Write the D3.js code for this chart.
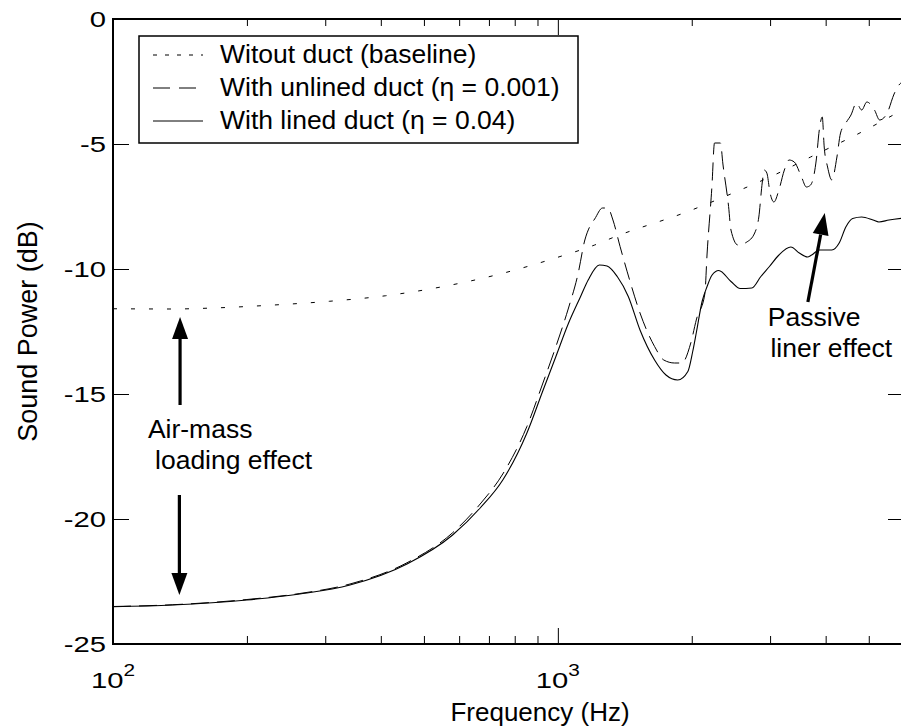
<!DOCTYPE html>
<html><head><meta charset="utf-8">
<script src="https://cdn.jsdelivr.net/npm/d3@7"></script>
<style>
body{margin:0;background:#fff}
svg{display:block}
text{font-family:"Liberation Sans",Arial,Helvetica,sans-serif;fill:#000}
</style>
</head><body>
<svg id="chart" width="901" height="728"></svg>
<script>
// ---------------- DATA ----------------
const baselineFreq = [100,136,168,225,307,410,557,745,1000,1210,1340,1960,2570,3100,3700,4820,6000];
const baselinePower = [-11.59,-11.6,-11.56,-11.45,-11.29,-11.07,-10.69,-10.19,-9.53,-9.04,-8.72,-7.7,-6.84,-6.2,-5.52,-4.52,-3.6];

const unlinedFreq = [100,136,200,263,341,458,580,669,752,852,924,990,1055,1110,1150,1180,1210,1260,1295,1330,1380,1450,1530,1650,1730,1830,1900,1990,2050,2140,2165,2220,2250,2320,2350,2420,2450,2540,2660,2770,2830,2880,2910,2950,3000,3060,3140,3230,3310,3400,3530,3620,3700,3810,3870,3930,3970,4040,4130,4240,4320,4440,4560,4690,4820,4950,5150,5290,5500,5700,5870,6000];
const unlinedPower = [-23.5,-23.43,-23.22,-22.98,-22.6,-21.75,-20.55,-19.4,-18.2,-16.3,-14.6,-13.1,-11.6,-10.2,-8.84,-8.3,-8.0,-7.56,-7.56,-8.04,-9.1,-10.44,-11.76,-13.1,-13.64,-13.76,-13.76,-12.96,-12.0,-11.0,-9.4,-6.7,-4.96,-4.96,-5.8,-7.5,-8.44,-9.04,-8.92,-8.56,-7.92,-6.56,-6.04,-6.16,-6.96,-7.32,-6.84,-6.04,-5.64,-5.72,-6.32,-6.72,-6.64,-5.64,-4.44,-3.92,-5.12,-5.92,-6.44,-5.52,-4.56,-4.16,-3.84,-3.36,-3.64,-3.32,-3.64,-4.04,-3.76,-3.0,-2.6,-2.5];

const linedFreq = [100,136,200,263,341,458,580,669,752,852,924,990,1055,1125,1170,1240,1290,1360,1440,1530,1650,1750,1860,1960,2010,2050,2110,2165,2220,2300,2450,2570,2730,2860,2990,3140,3340,3490,3640,3720,3870,4130,4290,4440,4600,4820,5110,5270,5550,6000];
const linedPower = [-23.51,-23.44,-23.24,-23.0,-22.64,-21.8,-20.64,-19.56,-18.44,-16.56,-14.9,-13.5,-12.2,-11.1,-10.44,-9.84,-9.88,-10.3,-11.1,-12.44,-13.64,-14.24,-14.44,-14.1,-13.3,-12.5,-11.3,-10.7,-10.25,-10.06,-10.5,-10.78,-10.76,-10.3,-9.9,-9.44,-9.12,-9.36,-9.52,-9.44,-9.24,-9.24,-8.96,-8.32,-7.98,-7.92,-8.04,-8.12,-8.04,-7.96];

const legendLabels = ["Witout duct (baseline)","With unlined duct (\u03B7 = 0.001)","With lined duct (\u03B7 = 0.04)"];
const yTickValues = [0,-5,-10,-15,-20,-25];
const yTickLabels = ["0","-5","-10","-15","-20","-25"];
const xMajorTicks = [100,1000];
const xMajorExponents = ["2","3"];
const xMinorTicks = [200,300,400,500,600,700,800,900,2000,3000,4000,5000];

// annotations in data coordinates (frequency, dB)
const arrowUp = {f:141.5, from:-15.44, to:-11.92};
const arrowDown = {f:141, from:-19.04, to:-23.04};
const arrowPassive = {f0:3648, p0:-11.32, f1:3981, p1:-7.76};
const textAir = [{f:119.8,p:-16.76,t:"Air-mass"},{f:124.3,p:-18.0,t:"loading effect"}];
const textPassive = [{f:2965,p:-12.28,t:"Passive"},{f:3005,p:-13.52,t:"liner effect"}];

// ---------------- CHART ----------------
const L=113, R=904, T=19, B=644;
const svg = d3.select("#chart");
const x = d3.scaleLog().domain([100,6000]).range([L,R]);
const y = d3.scaleLinear().domain([-25,0]).range([B,T]);

function tickAxis(axisGen, tr){
  const g = svg.append("g").attr("transform",tr).call(axisGen);
  g.select(".domain").remove();
  g.selectAll("line").attr("stroke","#000").attr("stroke-width",1);
  g.selectAll("text").remove();
  return g;
}
tickAxis(d3.axisBottom(x).tickValues(xMinorTicks).tickSize(-8).tickFormat(""), `translate(0,${B})`);
tickAxis(d3.axisBottom(x).tickValues(xMajorTicks).tickSize(-16).tickFormat(""), `translate(0,${B})`);
tickAxis(d3.axisTop(x).tickValues(xMinorTicks).tickSize(-7).tickFormat(""), `translate(0,${T})`);
tickAxis(d3.axisTop(x).tickValues(xMajorTicks).tickSize(-16).tickFormat(""), `translate(0,${T})`);
tickAxis(d3.axisLeft(y).tickValues(yTickValues).tickSize(-16).tickFormat(""), `translate(${L},0)`);
tickAxis(d3.axisRight(y).tickValues(yTickValues).tickSize(-16).tickFormat(""), `translate(${R},0)`);

svg.append("rect").attr("x",L).attr("y",T).attr("width",R-L).attr("height",B-T)
  .attr("fill","none").attr("stroke","#000").attr("stroke-width",2);

// tick labels (the original's tick font is drawn wide)
svg.append("g").selectAll("text").data(yTickValues).join("text")
  .attr("transform",d=>`translate(${L-7},${y(d)}) scale(1.3,1)`)
  .attr("dy","0.36em").attr("text-anchor","end").attr("font-size",22.5)
  .text((d,i)=>yTickLabels[i]);

const xl = svg.append("g").selectAll("text").data(xMajorTicks).join("text")
  .attr("transform",d=>`translate(${x(d)},688) scale(1.3,1)`)
  .attr("text-anchor","middle").attr("font-size",22.5);
xl.append("tspan").text("10");
xl.append("tspan").attr("font-size",16).attr("dy",-12).text((d,i)=>xMajorExponents[i]);

svg.append("text").attr("x",540).attr("y",721).attr("text-anchor","middle")
  .attr("font-size",26).text("Frequency (Hz)");
svg.append("text").attr("transform",`translate(37,${(T+B)/2}) rotate(-90)`)
  .attr("text-anchor","middle").attr("font-size",27).text("Sound Power (dB)");

svg.append("clipPath").attr("id","clip").append("rect")
  .attr("x",L).attr("y",T).attr("width",R-L).attr("height",B-T);
const line = d3.line().x(d=>x(d[0])).y(d=>y(d[1])).curve(d3.curveMonotoneX);
const plot = svg.append("g").attr("clip-path","url(#clip)");
plot.append("path").datum(d3.zip(baselineFreq,baselinePower)).attr("d",line)
  .attr("fill","none").attr("stroke","#000").attr("stroke-width",1).attr("stroke-dasharray","4,14");
plot.append("path").datum(d3.zip(unlinedFreq,unlinedPower)).attr("d",line)
  .attr("fill","none").attr("stroke","#000").attr("stroke-width",1).attr("stroke-dasharray","18,8");
plot.append("path").datum(d3.zip(linedFreq,linedPower)).attr("d",line)
  .attr("fill","none").attr("stroke","#000").attr("stroke-width",1.1);

const lg = svg.append("g");
lg.append("rect").attr("x",139).attr("y",36).attr("width",439).attr("height",107)
  .attr("fill","#fff").attr("stroke","#000").attr("stroke-width",1.5);
const dashes = ["4,8","17,9",null];
legendLabels.forEach((t,i)=>{
  const cy = 55 + i*33;
  const ln = lg.append("line").attr("x1",153).attr("x2",203).attr("y1",cy).attr("y2",cy)
    .attr("stroke","#000").attr("stroke-width",1);
  if(dashes[i]) ln.attr("stroke-dasharray",dashes[i]);
  lg.append("text").attr("x",220).attr("y",cy+8).attr("font-size",26.5).text(t);
});

function arrow(x0,y0,x1,y1){
  const ang = Math.atan2(y1-y0,x1-x0);
  const hl=22, hw=8;
  const bx = x1 - hl*Math.cos(ang), by = y1 - hl*Math.sin(ang);
  svg.append("line").attr("x1",x0).attr("y1",y0).attr("x2",bx).attr("y2",by)
    .attr("stroke","#000").attr("stroke-width",3.2);
  const px=-Math.sin(ang)*hw, py=Math.cos(ang)*hw;
  svg.append("path").attr("d",`M${x1},${y1}L${bx+px},${by+py}L${bx-px},${by-py}Z`).attr("fill","#000");
}
arrow(x(arrowUp.f),y(arrowUp.from),x(arrowUp.f),y(arrowUp.to));
arrow(x(arrowDown.f),y(arrowDown.from),x(arrowDown.f),y(arrowDown.to));
arrow(x(arrowPassive.f0),y(arrowPassive.p0),x(arrowPassive.f1),y(arrowPassive.p1));

svg.append("g").selectAll("text").data(textAir.concat(textPassive)).join("text")
  .attr("x",d=>x(d.f)).attr("y",d=>y(d.p)).attr("font-size",26.5).text(d=>d.t);
</script>
</body></html>
